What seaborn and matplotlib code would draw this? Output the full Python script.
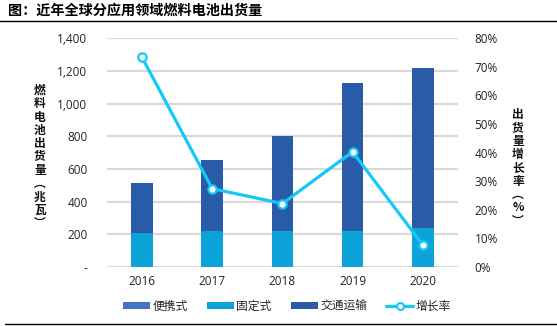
import matplotlib
matplotlib.use("Agg")
import matplotlib.pyplot as plt
import seaborn as sns
import numpy as np
import pandas as pd
from matplotlib.lines import Line2D
from matplotlib.patches import Patch
from matplotlib.ticker import FuncFormatter

years = ["2016", "2017", "2018", "2019", "2020"]
portable = [3, 3, 2, 1, 1]
stationary = [205, 217, 218, 219, 238]
transport = [308, 435, 583, 904, 977]
growth = [73.3, 27.4, 22.2, 40.3, 7.7]

title = "图：近年全球分应用领域燃料电池出货量"
left_label = "燃料电池出货量︵兆瓦︶"
right_label = "出货量增长率︵%︶"
names = ["便携式", "固定式", "交通运输", "增长率"]

c_port = "#4472C4"
c_stat = "#0BA3D8"
c_trans = "#2A5BA8"
c_line = "#14C8F7"

sns.set_theme(style="white")
plt.rcParams["font.family"] = ["Noto Sans CJK SC", "DejaVu Sans"]

fig = plt.figure(figsize=(5.57, 3.26), dpi=100)
ax = fig.add_axes([0.192, 0.181, 0.630, 0.7015])

df = pd.DataFrame({
    "year": years,
    "portable": portable,
    "stationary": stationary,
    "transport": transport,
})
df["lvl1"] = df["portable"]
df["lvl2"] = df["portable"] + df["stationary"]
df["lvl3"] = df["lvl2"] + df["transport"]

for ycol, col in [("lvl3", c_trans), ("lvl2", c_stat), ("lvl1", c_port)]:
    sns.barplot(data=df, x="year", y=ycol, color=col, saturation=1, width=0.31,
                ax=ax, zorder=3, linewidth=0)

ax.set_ylim(0, 1400)
ax.set_yticks(np.arange(0, 1401, 200))
ax.yaxis.set_major_formatter(FuncFormatter(lambda v, p: "-" if v == 0 else f"{int(v):,}"))
ax.grid(axis="y", color="#D9D9D9", linewidth=1.6, zorder=0)
ax.set_axisbelow(True)
for s in ax.spines.values():
    s.set_visible(False)
ax.tick_params(axis="both", length=0, labelsize=8.5, colors="#222222")
ax.tick_params(axis="y", pad=14)
ax.tick_params(axis="x", pad=6)
for t in ax.get_xticklabels() + ax.get_yticklabels():
    t.set_family(["Open Sans", "DejaVu Sans"])
ax.set_xlabel("")
ax.set_ylabel("")
ax.set_xlim(-0.5, 4.5)

ax2 = ax.twinx()
gdf = pd.DataFrame({"year": years, "growth": growth})
sns.lineplot(data=gdf, x="year", y="growth", ax=ax2, color=c_line, linewidth=2.3,
             marker="o", markersize=6, markerfacecolor="white",
             markeredgecolor=c_line, markeredgewidth=1.6, zorder=5, sort=False)
ax2.set_ylim(0, 80)
ax2.set_yticks(np.arange(0, 81, 10))
ax2.yaxis.set_major_formatter(FuncFormatter(lambda v, p: f"{int(v)}%"))
for s in ax2.spines.values():
    s.set_visible(False)
ax2.tick_params(axis="y", length=0, labelsize=8.5, colors="#222222", pad=12)
for t in ax2.get_yticklabels():
    t.set_family(["Open Sans", "DejaVu Sans"])
ax2.set_ylabel("")
ax2.set_xlabel("")
ax2.grid(False)
ax2.set_xlim(-0.5, 4.5)

# vertical stacked axis labels
fig.text(40 / 557, 1 - 157 / 326, "\n".join(left_label), ha="center", va="center",
         fontsize=8.5, fontweight="bold", linespacing=1.03, color="#111111")
fig.text(518 / 557, 1 - 168 / 326, "\n".join(right_label), ha="center", va="center",
         fontsize=8.5, fontweight="bold", linespacing=1.03, color="#111111")

# title and rules
fig.text(8 / 557, 1 - 11 / 326, title, ha="left", va="center", fontsize=10.2,
         fontweight="bold", color="#000000")
fig.add_artist(Line2D([0, 1], [1 - 21 / 326, 1 - 21 / 326], color="black", linewidth=1.0,
                      transform=fig.transFigure))
fig.add_artist(Line2D([5 / 557, 1], [1 - 324 / 326, 1 - 324 / 326], color="black",
                      linewidth=1.0, transform=fig.transFigure))

handles = [
    Patch(facecolor=c_port, edgecolor="none"),
    Patch(facecolor=c_stat, edgecolor="none"),
    Patch(facecolor=c_trans, edgecolor="none"),
    Line2D([0], [0], color=c_line, linewidth=2.3, marker="o", markersize=5,
           markerfacecolor="white", markeredgecolor=c_line, markeredgewidth=1.5),
]
leg = fig.legend(handles, names, loc="center", bbox_to_anchor=(287 / 557, 1 - 306 / 326),
                 ncol=4, frameon=False, fontsize=8.5, handlelength=2.3, handleheight=0.6,
                 columnspacing=1.6, handletextpad=0.2)

fig.savefig("out.png", dpi=100)
